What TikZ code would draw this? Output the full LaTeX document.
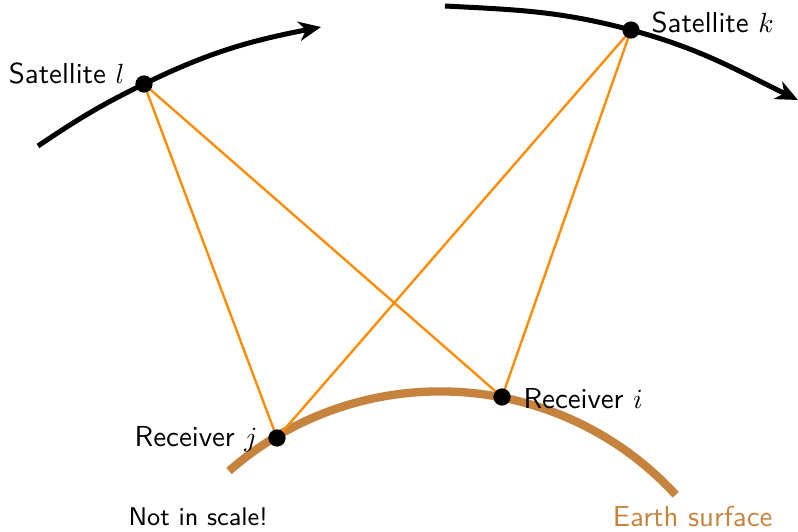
\documentclass[tikz,border=0pt]{standalone}
\usetikzlibrary{arrows.meta}
\definecolor{earth}{RGB}{198,131,62}
\definecolor{sig}{RGB}{255,140,0}
\begin{document}
\begin{tikzpicture}[x=0.36pt,y=0.36pt,
  orbit/.style={line width=1.8pt,-{Stealth[length=8pt,width=7pt,inset=2.5pt]}},
  signal/.style={sig,line width=0.85pt},
  dot/.style={circle,fill=black,inner sep=0pt,minimum size=6.2pt},
  lbl/.style={inner sep=0pt,font=\sffamily\fontsize{10.4}{12}\selectfont}]
\useasboundingbox (0,0) rectangle (798,531);
% orbits
\coordinate (ls) at (38,385);
\coordinate (le) at (321,504);
\coordinate (ks) at (445,525);
\coordinate (ke) at (798,431);
\coordinate (L) at (144,447);
\coordinate (K) at (631,501);
\coordinate (J) at (277,93);
\coordinate (I) at (502,134);
\coordinate (es) at (229,60);
\draw[orbit] (ls) to[out=34,in=206] (L) to[out=26,in=191] (le);
\draw[orbit] (ks) to[out=-3,in=165] (K) to[out=-15,in=154] (ke);
% earth
\draw[earth,line width=3pt] (es) arc[start angle=131.3,end angle=42.6,radius=320];
% signals
\draw[signal] (L) -- (J);
\draw[signal] (L) -- (I);
\draw[signal] (K) -- (J);
\draw[signal] (K) -- (I);
% dots
\node[dot] (l) at (L) {};
\node[dot] (k) at (K) {};
\node[dot] (j) at (J) {};
\node[dot] (i) at (I) {};
% labels
\node[lbl,anchor=base east] (tl) at (125,448) {Satellite $l$};
\node[lbl,anchor=base west] (tk) at (651,499) {Satellite $k$};
\node[lbl,anchor=base east] (tj) at (258,85) {Receiver $j$};
\node[lbl,anchor=base west] (ti) at (523,123) {Receiver $i$};
\node[lbl,anchor=base west,font=\sffamily\fontsize{9.2}{11}\selectfont] (ns) at (128,6) {Not in scale!};
\node[lbl,anchor=base east,text=earth] (et) at (773,5) {Earth surface};
\end{tikzpicture}
\end{document}
